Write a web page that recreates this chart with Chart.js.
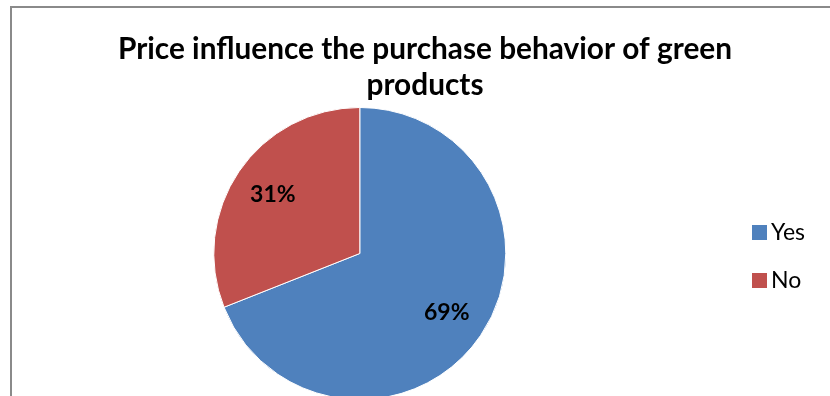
<!DOCTYPE html>
<html lang="en">
<head>
    <meta charset="UTF-8">
    <title>Price influence on green products</title>
    <style>
        html, body {
            margin: 0;
            padding: 0;
            width: 830px;
            height: 396px;
            overflow: hidden;
            background: #ffffff;
        }

        /* chart frame, only the top and left edges are inside the window */
        .frame {
            position: absolute;
            left: 10px;
            top: 6px;
            width: 900px;
            height: 500px;
            border-top: 2px solid #8a8a8a;
            border-left: 2px solid #8a8a8a;
        }

        #pieChart {
            position: absolute;
            left: 0;
            top: 0;
        }
    </style>
    <script src="https://cdn.jsdelivr.net/npm/chart.js"></script>
</head>
<body>
    <div class="frame"></div>
    <canvas id="pieChart" width="830" height="400"></canvas>

    <script>
        const titleLines = ['Price influence the purchase behavior of green', 'products'];
        const answers = ['Yes', 'No'];
        const shares = [69, 31];
        const sliceColors = ['#4F81BD', '#C0504D'];

        const FONT = "Lato, 'Open Sans', sans-serif";

        // small filled square used as legend marker (sits tight against the text)
        function squareMarker(color) {
            const c = document.createElement('canvas');
            c.width = 15;
            c.height = 15;
            const g = c.getContext('2d');
            g.fillStyle = color;
            g.fillRect(0, 0, 15, 15);
            return c;
        }

        // empty box between the pie and the legend
        const legendGap = {
            id: 'legendGap',
            beforeInit(chart) {
                Chart.layouts.addBox(chart, {
                    position: 'right',
                    weight: 500,
                    fullSize: false,
                    options: {},
                    left: 0, top: 0, right: 0, bottom: 0, width: 0, height: 0,
                    update(maxWidth, maxHeight) {
                        this.width = 49;
                        this.height = maxHeight;
                    },
                    isHorizontal() { return false; },
                    getPadding() { return { left: 0, right: 0, top: 0, bottom: 0 }; },
                    draw() {}
                });
            }
        };

        // percentage text inside each slice
        const sliceLabels = {
            id: 'sliceLabels',
            afterDatasetsDraw(chart) {
                const ctx = chart.ctx;
                const values = chart.data.datasets[0].data;
                const total = values.reduce((a, b) => a + b, 0);
                ctx.save();
                ctx.font = 'bold 23px ' + FONT;
                ctx.fillStyle = '#000000';
                ctx.textAlign = 'center';
                ctx.textBaseline = 'middle';
                chart.getDatasetMeta(0).data.forEach((arc, i) => {
                    const p = arc.getProps(['x', 'y', 'startAngle', 'endAngle', 'outerRadius'], true);
                    const mid = (p.startAngle + p.endAngle) / 2;
                    const r = p.outerRadius * 0.72;
                    const pct = Math.round(values[i] / total * 100) + '%';
                    ctx.fillText(pct, p.x + Math.cos(mid) * r, p.y + Math.sin(mid) * r);
                });
                ctx.restore();
            }
        };

        const ctx = document.getElementById('pieChart').getContext('2d');

        window.pieChart = new Chart(ctx, {
            type: 'pie',
            data: {
                labels: answers,
                datasets: [{
                    data: shares,
                    backgroundColor: sliceColors,
                    borderColor: '#ffffff',
                    borderWidth: 1
                }]
            },
            options: {
                responsive: false,
                animation: false,
                layout: {
                    padding: { left: 35, right: 15, top: 0, bottom: 0 }
                },
                plugins: {
                    title: {
                        display: true,
                        text: titleLines,
                        color: '#000000',
                        font: { family: FONT, size: 29.8, weight: 'bold', lineHeight: 1.191 },
                        padding: { top: 32, bottom: 4 }
                    },
                    legend: {
                        position: 'right',
                        fullSize: false,
                        title: {
                            display: true,
                            text: '',
                            font: { size: 6, lineHeight: 1 },
                            padding: 0
                        },
                        labels: {
                            usePointStyle: true,
                            pointStyleWidth: 1,
                            padding: 25,
                            color: '#000000',
                            font: { family: FONT, size: 23 },
                            generateLabels(chart) {
                                return chart.data.labels.map((label, i) => ({
                                    text: label,
                                    fillStyle: sliceColors[i],
                                    strokeStyle: sliceColors[i],
                                    fontColor: '#000000',
                                    lineWidth: 0,
                                    pointStyle: squareMarker(sliceColors[i]),
                                    hidden: !chart.getDataVisibility(i),
                                    index: i
                                }));
                            }
                        }
                    },
                    tooltip: { enabled: false }
                }
            },
            plugins: [legendGap, sliceLabels]
        });
    </script>
</body>
</html>
